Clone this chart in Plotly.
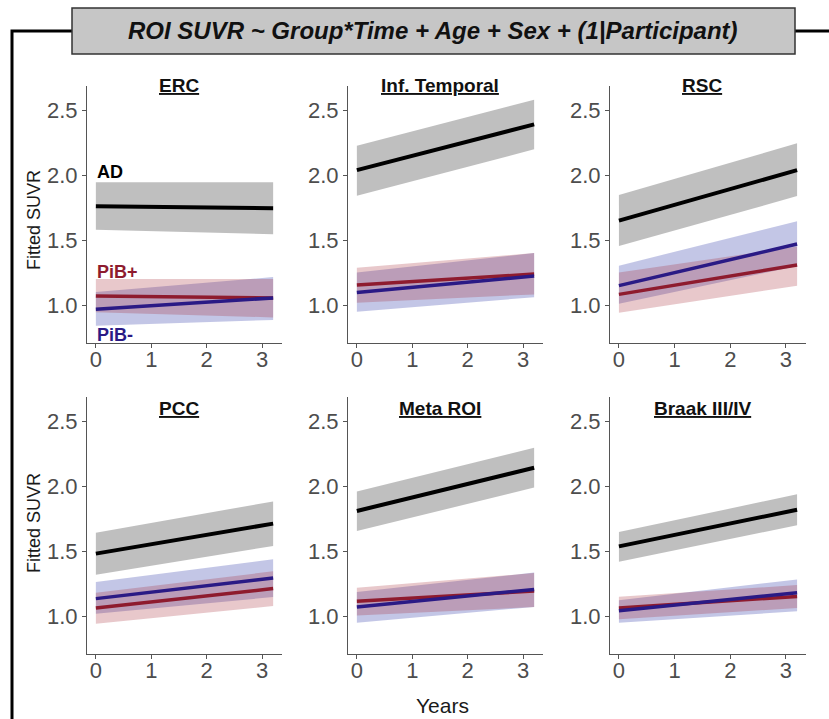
import plotly.graph_objects as go

# ---------------- data ----------------
regions = ["ERC", "Inf. Temporal", "RSC", "PCC", "Meta ROI", "Braak III/IV"]
years = [0, 3.2]
x_ticks = [0, 1, 2, 3]
y_ticks = [1.0, 1.5, 2.0, 2.5]

ad_fit = [[1.760, 1.745], [2.038, 2.390], [1.649, 2.038], [1.480, 1.711], [1.808, 2.141], [1.536, 1.818]]
ad_lo = [[1.580, 1.545], [1.840, 2.198], [1.454, 1.838], [1.318, 1.539], [1.654, 1.988], [1.418, 1.698]]
ad_hi = [[1.945, 1.945], [2.225, 2.580], [1.846, 2.244], [1.641, 1.882], [1.959, 2.295], [1.646, 1.936]]

pibp_fit = [[1.070, 1.055], [1.154, 1.238], [1.082, 1.308], [1.062, 1.211], [1.113, 1.192], [1.062, 1.151]]
pibp_lo = [[0.945, 0.905], [1.018, 1.082], [0.941, 1.149], [0.940, 1.077], [1.005, 1.069], [0.975, 1.062]]
pibp_hi = [[1.200, 1.200], [1.287, 1.400], [1.250, 1.450], [1.180, 1.344], [1.218, 1.331], [1.149, 1.238]]

pibm_fit = [[0.967, 1.055], [1.097, 1.223], [1.149, 1.469], [1.134, 1.292], [1.069, 1.205], [1.041, 1.180]]
pibm_lo = [[0.840, 0.885], [0.949, 1.060], [1.010, 1.300], [1.018, 1.146], [0.949, 1.070], [0.949, 1.036]]
pibm_hi = [[1.100, 1.215], [1.250, 1.400], [1.303, 1.644], [1.262, 1.436], [1.185, 1.334], [1.121, 1.282]]

group_labels = ["AD", "PiB+", "PiB-"]
group_label_y = [2.02, 1.258, 0.773]

# ---------------- styling ----------------
W, H = 829, 719
AD_LINE = "#000000"
AD_BAND = "rgba(128,128,128,0.5)"
P_LINE = "#8e1b2e"
P_BAND = "rgba(164,36,48,0.25)"
M_LINE = "#2a1a85"
M_BAND = "rgba(55,65,172,0.30)"
TICK_COL = "#4d4d4d"
AXIS_COL = "#555555"
FONT = "Liberation Sans, Arial, sans-serif"

def px_x(x):
    return x / W

def px_y(y):
    return 1 - y / H

col_px = [(87, 282), (348, 543), (610, 806)]
row_px = [(86, 343), (397, 654)]

fig = go.Figure()

def band(i, lo, hi, color, ax):
    fig.add_trace(go.Scatter(
        x=years + years[::-1],
        y=lo[i] + hi[i][::-1],
        fill="toself", fillcolor=color, mode="lines",
        line=dict(width=0), hoverinfo="skip", showlegend=False,
        xaxis="x" + ax, yaxis="y" + ax))

def line(i, fit, color, width, ax):
    fig.add_trace(go.Scatter(
        x=years, y=fit[i], mode="lines",
        line=dict(color=color, width=width), showlegend=False,
        xaxis="x" + ax, yaxis="y" + ax))

layout_axes = {}
for i, name in enumerate(regions):
    r, c = divmod(i, 3)
    ax = "" if i == 0 else str(i + 1)
    band(i, ad_lo, ad_hi, AD_BAND, ax)
    band(i, pibm_lo, pibm_hi, M_BAND, ax)
    band(i, pibp_lo, pibp_hi, P_BAND, ax)
    line(i, ad_fit, AD_LINE, 4, ax)
    line(i, pibp_fit, P_LINE, 3.5, ax)
    line(i, pibm_fit, M_LINE, 3.5, ax)

    x0, x1 = col_px[c]
    y0, y1 = row_px[r]
    xkey = "xaxis" if i == 0 else f"xaxis{i+1}"
    ykey = "yaxis" if i == 0 else f"yaxis{i+1}"
    layout_axes[xkey] = dict(
        domain=[px_x(x0), px_x(x1)], anchor="y" + ax,
        range=[-0.16, 3.36], tickvals=x_ticks, ticks="outside", ticklen=4,
        tickcolor=AXIS_COL, showline=True, linecolor=AXIS_COL, linewidth=1,
        showgrid=False, zeroline=False, ticklabelstandoff=-7,
        tickfont=dict(size=22, color=TICK_COL, family=FONT))
    layout_axes[ykey] = dict(
        domain=[px_y(y1), px_y(y0)], anchor="x" + ax,
        range=[0.708, 2.685], tickvals=y_ticks, tickformat=".1f",
        ticks="outside", ticklen=4, tickcolor=AXIS_COL, showline=True,
        linecolor=AXIS_COL, linewidth=1, showgrid=False, zeroline=False,
        tickfont=dict(size=22, color=TICK_COL, family=FONT))

fig.update_layout(**layout_axes)

annotations = []
# panel titles
for i, name in enumerate(regions):
    r, c = divmod(i, 3)
    ax = "" if i == 0 else str(i + 1)
    ty = 85 if r == 0 else 408
    annotations.append(dict(
        x=1.5, xref="x" + ax, y=px_y(ty), yref="paper",
        text=f"<b><u>{name}</u></b>", showarrow=False,
        font=dict(size=19, color="#111111", family=FONT),
        xanchor="center", yanchor="middle"))

# group labels in first panel
for lab, ly, col in zip(group_labels, group_label_y, [AD_LINE, P_LINE, M_LINE]):
    annotations.append(dict(
        x=0, xref="x", y=ly, yref="y", text=f"<b>{lab}</b>",
        showarrow=False, xanchor="left", yanchor="middle", xshift=-1,
        font=dict(size=18, color=col, family=FONT)))

# y-axis titles
for cy in (220, 523):
    annotations.append(dict(
        x=px_x(34), y=px_y(cy), xref="paper", yref="paper",
        text="Fitted SUVR", textangle=-90, showarrow=False,
        font=dict(size=18, color="#1a1a1a", family=FONT),
        xanchor="center", yanchor="middle"))

# x-axis title
annotations.append(dict(
    x=px_x(442), y=px_y(705), xref="paper", yref="paper",
    text="Years", showarrow=False,
    font=dict(size=21, color="#1a1a1a", family=FONT),
    xanchor="center", yanchor="middle"))

# main title
annotations.append(dict(
    x=px_x(433), y=px_y(31), xref="paper", yref="paper",
    text="<i><b>ROI SUVR ~ Group*Time + Age + Sex + (1|Participant)</b></i>",
    showarrow=False, font=dict(size=24, color="#111111", family=FONT),
    xanchor="center", yanchor="middle"))

shapes = [
    # outer frame
    dict(type="path", xref="paper", yref="paper",
         path=f"M {px_x(12)},{px_y(719)} L {px_x(12)},{px_y(31)} L {px_x(72)},{px_y(31)}",
         line=dict(color="black", width=3)),
    dict(type="line", xref="paper", yref="paper",
         x0=px_x(795), x1=px_x(829), y0=px_y(31), y1=px_y(31),
         line=dict(color="black", width=3)),
    # title box
    dict(type="rect", xref="paper", yref="paper",
         x0=px_x(72), x1=px_x(795), y0=px_y(54), y1=px_y(8),
         fillcolor="#c6c6c6", line=dict(color="#333333", width=1.5)),
]

fig.update_layout(
    width=W, height=H, margin=dict(l=0, r=0, t=0, b=0),
    paper_bgcolor="white", plot_bgcolor="white",
    annotations=annotations, shapes=shapes, showlegend=False,
    font=dict(family=FONT))

fig.write_html(
    "out.html",
    config={"displayModeBar": False},
    post_script="document.body.style.margin='0';document.body.style.padding='0';document.body.style.overflow='hidden';")
